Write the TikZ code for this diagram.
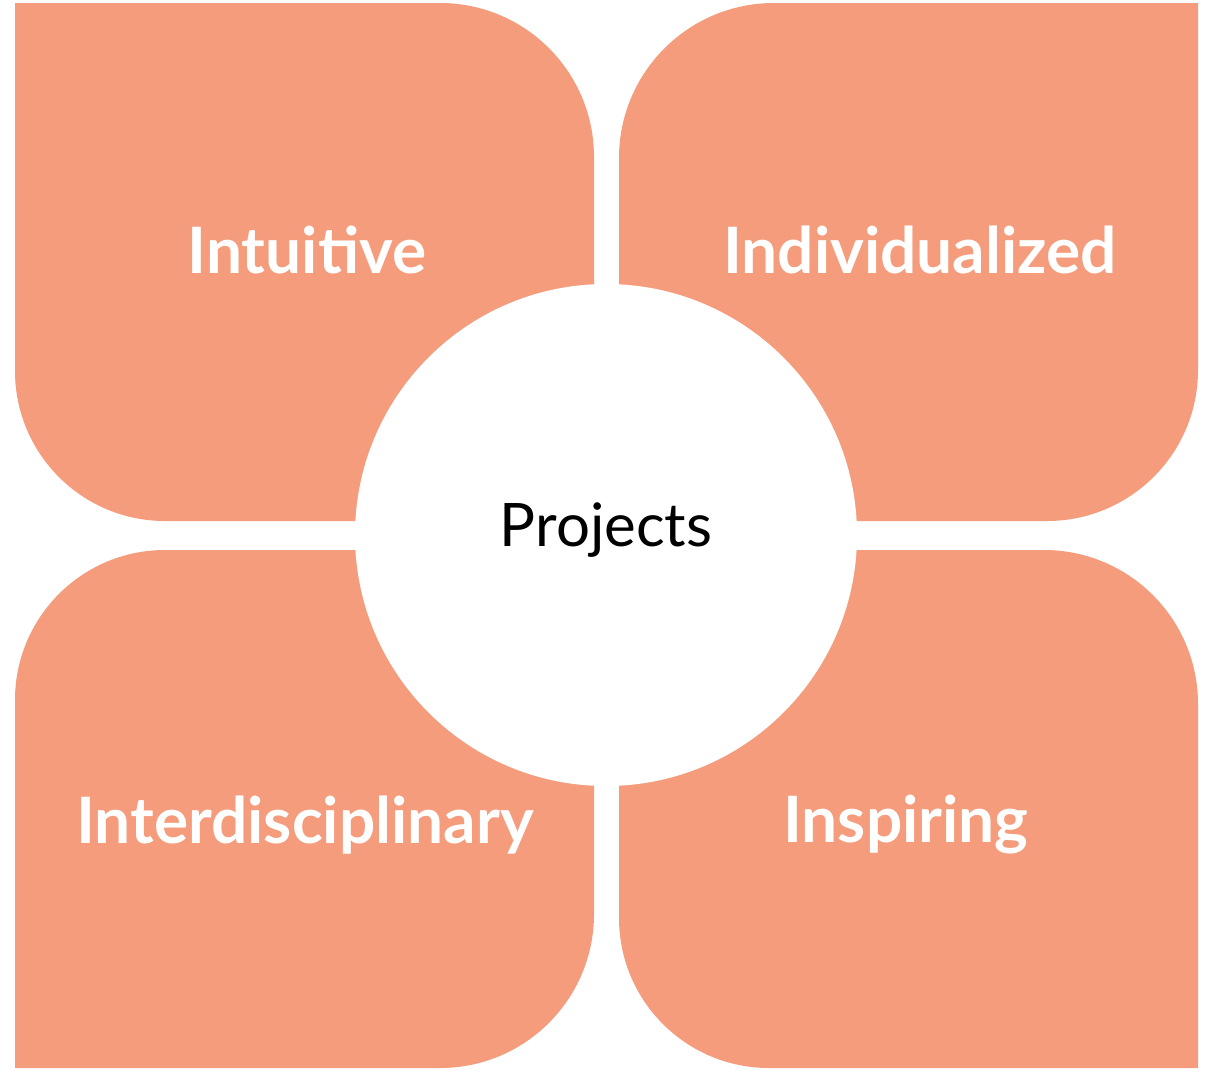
\documentclass[tikz,border=0pt]{standalone}
\usepackage{fontspec}
\setmainfont{Lato}
\definecolor{petal}{HTML}{F49C7C}
\begin{document}
\begin{tikzpicture}[x=1pt,y=-1pt,
  petalfill/.style={fill=petal,draw=none},
  lbl/.style={font=\fontsize{64}{70}\selectfont\bfseries,text=white,inner sep=0}]
\useasboundingbox (0,0) rectangle (1224,1072);
\fill[white] (0,0) rectangle (1224,1072);
% top-left
\fill[petalfill] (15,3) -- (440,3) arc[start angle=90,end angle=0,x radius=154,y radius=-154] -- (594,521) -- (165,521) arc[start angle=270,end angle=180,x radius=150,y radius=-150] -- cycle;
% top-right
\fill[petalfill] (619,158) arc[start angle=180,end angle=90,x radius=155,y radius=-155] -- (1198,3) -- (1198,370) arc[start angle=0,end angle=-90,x radius=151,y radius=-151] -- (619,521) -- cycle;
% bottom-left
\fill[petalfill] (15,700) arc[start angle=180,end angle=90,x radius=150,y radius=-150] -- (594,550) -- (594,914) arc[start angle=0,end angle=-90,x radius=154,y radius=-154] -- (15,1068) -- cycle;
% bottom-right
\fill[petalfill] (619,550) -- (1044,550) arc[start angle=90,end angle=0,x radius=154,y radius=-154] -- (1198,1068) -- (769,1068) arc[start angle=270,end angle=180,x radius=150,y radius=-150] -- cycle;
\node[circle,fill=white,minimum size=502pt,inner sep=0] (c) at (606,535) {};
\node[lbl] (a) at (307,250) {Intuitive};
\node[lbl] (b) at (920,250) {Individualized};
\node[lbl] (d) at (305,825) {Interdisciplinary};
\node[lbl] (e) at (906,825) {Inspiring};
\node[font=\fontsize{60}{66}\selectfont,inner sep=0] (p) at (606,530) {Projects};
\end{tikzpicture}
\end{document}
